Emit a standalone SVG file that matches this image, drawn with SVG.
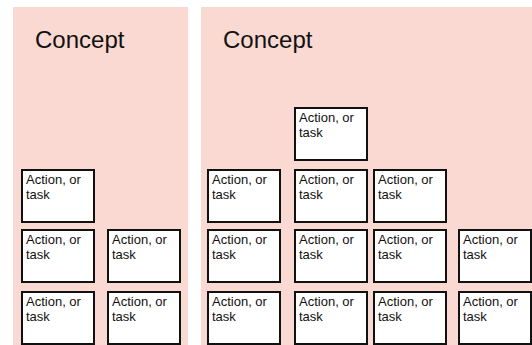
<svg xmlns="http://www.w3.org/2000/svg" width="532" height="345" viewBox="0 0 532 345">
  <defs>
    <style>
      .panel { fill: #FAD9D2; }
      .title { font-family: "Liberation Sans", Arial, sans-serif; font-size: 24px; fill: #111; }
      .box-frame { fill: #fff; stroke: #111; stroke-width: 2; }
      .box-label { font-family: "Liberation Sans", Arial, sans-serif; font-size: 13px; fill: #111; }
    </style>
    <g id="task">
      <rect class="box-frame" x="0" y="0" width="72" height="52"/>
      <text class="box-label" x="4" y="14">Action, or</text>
      <text class="box-label" x="4" y="29">task</text>
    </g>
  </defs>

  <g id="concept-left">
    <rect class="panel" x="13" y="7" width="175" height="338"/>
    <text class="title" x="35" y="48">Concept</text>
  </g>
  <g id="concept-right">
    <rect class="panel" x="201" y="7" width="331" height="338"/>
    <text class="title" x="223" y="48">Concept</text>
  </g>

  <!-- left stack -->
  <g id="l-r1c1"><use href="#task" x="22" y="170"/></g>
  <g id="l-r2c1"><use href="#task" x="22" y="230"/></g>
  <g id="l-r2c2"><use href="#task" x="108" y="230"/></g>
  <g id="l-r3c1"><use href="#task" x="22" y="292"/></g>
  <g id="l-r3c2"><use href="#task" x="108" y="292"/></g>

  <!-- right stack -->
  <g id="r-r0c2"><use href="#task" x="295" y="108"/></g>
  <g id="r-r1c1"><use href="#task" x="208" y="170"/></g>
  <g id="r-r1c2"><use href="#task" x="295" y="170"/></g>
  <g id="r-r1c3"><use href="#task" x="374" y="170"/></g>
  <g id="r-r2c1"><use href="#task" x="208" y="230"/></g>
  <g id="r-r2c2"><use href="#task" x="295" y="230"/></g>
  <g id="r-r2c3"><use href="#task" x="374" y="230"/></g>
  <g id="r-r2c4"><use href="#task" x="459" y="230"/></g>
  <g id="r-r3c1"><use href="#task" x="208" y="292"/></g>
  <g id="r-r3c2"><use href="#task" x="295" y="292"/></g>
  <g id="r-r3c3"><use href="#task" x="374" y="292"/></g>
  <g id="r-r3c4"><use href="#task" x="459" y="292"/></g>

  <g id="connectors"/>
</svg>
